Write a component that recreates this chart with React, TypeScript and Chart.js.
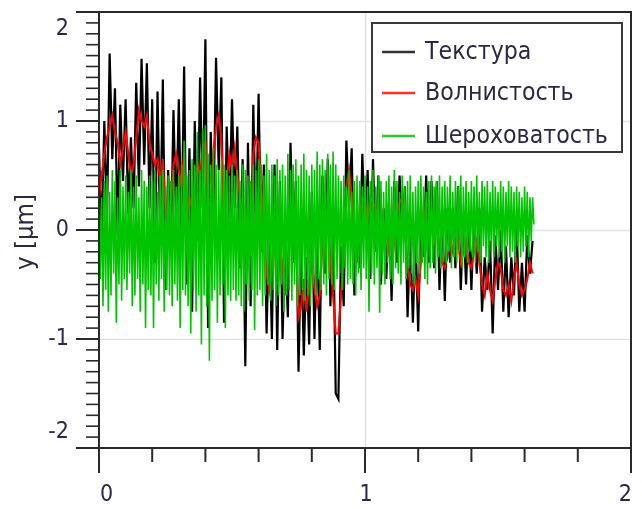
import React, { useEffect, useRef } from "react";
import { Chart, registerables } from "chart.js";

Chart.register(...registerables);

// ---------- data ----------
const SERIES_NAMES = ["Текстура", "Волнистость", "Шероховатость"];
const SERIES_COLORS = ["#000000", "#ff0000", "#00c400"];
const SERIES_WIDTHS = [2.2, 2.1, 1.6];
const LEGEND_COLORS = ["#333333", "#ff3030", "#28cc28"];
const X_START = 0;
const TEXTURE_STEP = 0.01;
const WAVINESS_STEP = 0.01;
const ROUGHNESS_STEP = 0.005;

const TEXTURE = [
  0.75, -0.1, 1.0, 0.1, 1.62, 0.65, 1.3, -0.05, 1.15, 0.45, 1.2,
  0.15, 0.85, 0.2, 1.35, 0.4, 1.57, 0.6, 1.53, 0.2, 1.2,
  -0.3, 1.27, -0.05, 1.38, -0.55, 0.55, -0.2, 1.1, 0.05, 1.2,
  -0.1, 1.5, -0.5, 0.75, -0.75, 1.0, -0.1, 1.4, 0.2, 1.75,
  -0.9, 0.9, 0.1, 1.58, 0.55, 1.4, -0.85, 0.95, 0.1, 1.2,
  0.2, 0.95, -0.35, 0.65, -1.25, 0.8, -0.7, 1.15, -0.05, 1.25,
  -0.2, 0.6, -0.95, 0.05, -1.0, 0.6, -1.1, 0.45, -1.0, -0.1,
  -0.8, 0.8, -0.3, 0.45, -1.3, -0.1, -1.15, -0.25, -1.05, 0.35,
  -1.0, 0.02, -1.1, 0.5, -0.4, 0.65, -0.7, 0.1, -1.5, -1.55,
  -0.15, -0.7, 0.82, 0.2, 0.75, -0.6, 0.05, -0.35, 0.7, -0.05,
  0.55, -0.45, 0.65, -0.2, 0.5, -0.5, 0.2, -0.45, 0.25, -0.65,
  0.45, -0.3, 0.5, -0.05, 0.4, -0.8, -0.05, -0.85, -0.05, -0.93,
  0.2, -0.25, 0.5, -0.3, 0.45, -0.35, 0.45, -0.55, 0.2, -0.65,
  0.2, -0.3, 0.2, -0.35, 0.4, -0.55, 0.1, -0.5, 0.15, -0.55,
  0.2, -0.4, 0.2, -0.75, -0.25, -0.55, -0.1, -0.95, -0.05, -0.55,
  0.0, -0.75, -0.15, -0.8, -0.25, -0.6, 0.05, -0.75, -0.3, -0.75,
  -0.05, -0.4, -0.1,
];

const WAVINESS = [
  0.3, 0.5, 0.7, 0.85, 0.95, 1.05, 0.9, 0.8, 0.6, 0.75, 0.9,
  0.7, 0.5, 0.6, 0.85, 1.1, 1.0, 0.95, 1.05, 0.8, 0.7,
  0.6, 0.65, 0.45, 0.65, 0.2, 0.1, 0.25, 0.6, 0.7, 0.55,
  0.4, 0.7, 0.1, 0.3, 0.2, 0.45, 0.6, 0.5, 0.75, 0.8,
  0.3, 0.2, 0.7, 0.95, 1.05, 0.85, 0.0, 0.45, 0.7, 0.55,
  0.75, 0.5, 0.3, 0.1, -0.5, 0.2, -0.2, 0.7, 0.85, 0.8,
  0.4, -0.1, -0.4, -0.55, -0.35, 0.1, -0.5, -0.2, -0.3, -0.6,
  -0.3, 0.1, 0.3, -0.1, -0.8, -0.7, -0.45, -0.75, -0.5, -0.3,
  -0.55, -0.7, -0.6, -0.1, 0.2, 0.1, -0.3, -0.6, -0.95, -0.95,
  -0.6, -0.2, 0.4, 0.55, 0.3, -0.1, -0.3, 0.1, 0.3, 0.25,
  0.1, 0.3, 0.25, 0.2, 0.0, -0.15, -0.1, 0.05, -0.2, -0.35,
  -0.1, 0.15, 0.25, 0.3, 0.0, -0.3, -0.5, -0.55, -0.45, -0.6,
  -0.3, 0.05, 0.25, 0.2, 0.0, -0.1, 0.05, -0.15, -0.3, -0.35,
  -0.25, -0.1, -0.2, 0.0, -0.1, -0.3, -0.2, -0.1, -0.3, -0.35,
  -0.2, -0.1, -0.3, -0.5, -0.6, -0.4, -0.55, -0.65, -0.45, -0.3,
  -0.35, -0.55, -0.6, -0.5, -0.65, -0.45, -0.3, -0.5, -0.6, -0.55,
  -0.45, -0.3, -0.4,
];

const ROUGHNESS = [
  0.5, -0.45, 0.3, -0.7, 0.45, -0.55, 0.5, -0.75, 0.35, -0.6, 0.55, -0.4, 0.45, -0.85, 0.3, -0.5, 0.55, -0.65, 0.4, -0.45,
  0.5, -0.55, 0.35, -0.4, 0.55, -0.7, 0.4, -0.6, 0.5, -0.45, 0.3, -0.75, 0.55, -0.5, 0.45, -0.9, 0.4, -0.55, 0.5, -0.6,
  0.45, -0.9, 0.55, -0.5, 0.35, -0.65, 0.5, -0.45, 0.55, -0.75, 0.4, -0.55, 0.5, -0.6, 0.45, -0.7, 0.55, -0.5, 0.4, -0.65,
  0.5, -0.9, 0.6, -0.55, 0.82, -0.6, 0.5, -0.7, 0.55, -0.95, 0.65, -0.55, 0.6, -0.75, 0.9, -0.6, 0.55, -1.05, 0.93, -0.6,
  0.96, -0.7, 0.7, -1.2, 0.6, -0.65, 0.75, -0.55, 0.6, -0.85, 0.55, -0.6, 0.65, -0.5, 0.6, -0.9, 0.55, -0.6, 0.5, -0.65,
  0.6, -0.55, 0.5, -0.65, 0.55, -0.6, 0.45, -0.7, 0.6, -0.75, 0.55, -0.5, 0.5, -0.65, 0.45, -0.55, 0.6, -0.92, 0.55, -0.6,
  0.65, -0.55, 0.6, -0.7, 0.5, -0.6, 0.7, -0.5, 0.55, -0.65, 0.6, -0.55, 0.5, -0.7, 0.65, -0.6, 0.55, -0.5, 0.6, -0.75,
  0.5, -0.6, 0.7, -0.55, 0.55, -0.65, 0.6, -0.5, 0.65, -0.7, 0.5, -0.6, 0.6, -0.55, 0.7, -0.65, 0.55, -0.6, 0.5, -0.7,
  0.6, -0.5, 0.55, -0.6, 0.72, -0.45, 0.6, -0.55, 0.65, -0.5, 0.55, -0.6, 0.7, -0.45, 0.6, -0.5, 0.72, -0.55, 0.6, -0.45,
  0.5, -0.4, 0.45, -0.55, 0.5, -0.35, 0.4, -0.5, 0.55, -0.45, 0.35, -0.5, 0.45, -0.6, 0.5, -0.4, 0.45, -0.55, 0.4, -0.35,
  0.5, -0.45, 0.4, -0.75, 0.45, -0.4, 0.55, -0.5, 0.4, -0.35, 0.5, -0.76, 0.45, -0.4, 0.35, -0.5, 0.45, -0.3, 0.5, -0.45,
  0.4, -0.5, 0.55, -0.35, 0.45, -0.4, 0.35, -0.5, 0.5, -0.3, 0.4, -0.45, 0.45, -0.35, 0.5, -0.4, 0.35, -0.5, 0.4, -0.3,
  0.45, -0.4, 0.5, -0.3, 0.4, -0.45, 0.35, -0.5, 0.45, -0.35, 0.5, -0.3, 0.4, -0.4, 0.45, -0.25, 0.5, -0.35, 0.4, -0.3,
  0.45, -0.3, 0.4, -0.2, 0.5, -0.35, 0.35, -0.25, 0.45, -0.3, 0.4, -0.2, 0.5, -0.35, 0.4, -0.25, 0.45, -0.3, 0.35, -0.2,
  0.45, -0.25, 0.4, -0.3, 0.5, -0.2, 0.35, -0.3, 0.45, -0.15, 0.4, -0.25, 0.45, -0.3, 0.35, -0.2, 0.45, -0.25, 0.4, -0.15,
  0.35, -0.25, 0.45, -0.2, 0.4, -0.3, 0.35, -0.15, 0.45, -0.25, 0.4, -0.2, 0.35, -0.3, 0.4, -0.15, 0.35, -0.25, 0.3, -0.2,
  0.4, -0.15, 0.35, -0.25, 0.3, -0.1, 0.3, 0.05,
];

const X_MIN = 0;
const X_MAX = 2;
const Y_MIN = -2;
const Y_MAX = 2;
const X_TICKS = [0, 1, 2];
const X_MINOR_TICKS = [0.2, 0.4, 0.6, 0.8, 1.2, 1.4, 1.6, 1.8];
const Y_TICKS = [-2, -1, 0, 1, 2];
const Y_TICK_LABELS = ["-2", "-1", "0", "1", "2"];
const X_TICK_LABELS = ["0", "1", "2"];
const Y_MINOR_PER_UNIT = 10;
const Y_GRID = [-1, 0, 1];
const X_GRID = [1];
const Y_TITLE = "y [µm]";

// ---------- styling ----------
const FONT_FAMILY = '"DejaVu Sans Condensed", "DejaVu Sans", sans-serif';
const TEXT_COLOR = "#2b2748";
const AXIS_COLOR = "#2a2a2a";
const GRID_COLOR = "#e2e2e2";

function toPoints(values: number[], step: number) {
  return values.map((v, i) => ({ x: X_START + i * step, y: v }));
}

function fittedSize(ctx: CanvasRenderingContext2D, text: string, width: number) {
  ctx.font = `20px ${FONT_FAMILY}`;
  const w = ctx.measureText(text).width;
  return (20 * width) / w;
}

const decorPlugin = {
  id: "decor",
  beforeDatasetsDraw(chart: any) {
    const { ctx, chartArea } = chart;
    const { left: L, right: R, top: T, bottom: B } = chartArea;
    const xs = chart.scales.x;
    const ys = chart.scales.y;
    ctx.save();
    ctx.strokeStyle = GRID_COLOR;
    ctx.lineWidth = 1.5;
    Y_GRID.forEach((v) => {
      const y = Math.round(ys.getPixelForValue(v)) + 0.5;
      ctx.beginPath();
      ctx.moveTo(L, y);
      ctx.lineTo(R, y);
      ctx.stroke();
    });
    X_GRID.forEach((v) => {
      const x = Math.round(xs.getPixelForValue(v)) + 0.5;
      ctx.beginPath();
      ctx.moveTo(x, T);
      ctx.lineTo(x, B);
      ctx.stroke();
    });
    ctx.restore();
  },
  afterDatasetsDraw(chart: any) {
    const { ctx, chartArea } = chart;
    const { left: L, right: R, top: T, bottom: B } = chartArea;
    const xs = chart.scales.x;
    const ys = chart.scales.y;
    ctx.save();
    ctx.strokeStyle = AXIS_COLOR;
    ctx.lineCap = "butt";

    // frame
    ctx.lineWidth = 2;
    ctx.beginPath();
    ctx.moveTo(L, T - 1);
    ctx.lineTo(L, B + 1);
    ctx.moveTo(R, T - 1);
    ctx.lineTo(R, B + 1);
    ctx.moveTo(L - 23, T);
    ctx.lineTo(R + 1, T);
    ctx.moveTo(L - 23, B);
    ctx.lineTo(R + 1, B);
    ctx.stroke();

    // y ticks
    Y_TICKS.forEach((v) => {
      const y = ys.getPixelForValue(v);
      ctx.lineWidth = 2;
      ctx.beginPath();
      ctx.moveTo(L - 23, y);
      ctx.lineTo(L, y);
      ctx.stroke();
    });
    ctx.lineWidth = 1.6;
    for (let k = Y_MIN * Y_MINOR_PER_UNIT; k <= Y_MAX * Y_MINOR_PER_UNIT; k++) {
      if (k % Y_MINOR_PER_UNIT === 0) continue;
      const y = ys.getPixelForValue(k / Y_MINOR_PER_UNIT);
      ctx.beginPath();
      ctx.moveTo(L - 13, y);
      ctx.lineTo(L, y);
      ctx.stroke();
    }
    // x ticks
    ctx.lineWidth = 2;
    X_TICKS.forEach((v) => {
      const x = xs.getPixelForValue(v);
      ctx.beginPath();
      ctx.moveTo(x, B);
      ctx.lineTo(x, B + 25);
      ctx.stroke();
    });
    X_MINOR_TICKS.forEach((v) => {
      const x = xs.getPixelForValue(v);
      ctx.beginPath();
      ctx.moveTo(x, B);
      ctx.lineTo(x, B + 14);
      ctx.stroke();
    });

    // tick labels
    ctx.fillStyle = TEXT_COLOR;
    ctx.font = `23px ${FONT_FAMILY}`;
    ctx.textBaseline = "middle";
    ctx.textAlign = "right";
    Y_TICKS.forEach((v, i) => {
      let y = ys.getPixelForValue(v);
      y = Math.min(Math.max(y, T + 17), B - 16);
      ctx.fillText(Y_TICK_LABELS[i], L - 30, y);
    });
    X_TICKS.forEach((v, i) => {
      const x = xs.getPixelForValue(v);
      if (i === 0) {
        ctx.textAlign = "left";
      } else if (i === X_TICKS.length - 1) {
        ctx.textAlign = "right";
      } else {
        ctx.textAlign = "center";
      }
      ctx.fillText(X_TICK_LABELS[i], x + 1, B + 47);
    });

    // y title
    const titleSize = fittedSize(ctx, Y_TITLE, 76);
    ctx.save();
    ctx.translate(L - 73, (T + B) / 2 + 2);
    ctx.rotate(-Math.PI / 2);
    ctx.font = `${titleSize}px ${FONT_FAMILY}`;
    ctx.textAlign = "center";
    ctx.textBaseline = "middle";
    ctx.fillText(Y_TITLE, 0, 0);
    ctx.restore();

    // legend
    const bx = R - 259;
    const by = T + 11;
    const bw = 250;
    const bh = 129;
    ctx.fillStyle = "#ffffff";
    ctx.fillRect(bx, by, bw, bh);
    ctx.strokeStyle = "#3a3a3a";
    ctx.lineWidth = 2;
    ctx.strokeRect(bx, by, bw, bh);
    const legendSize = fittedSize(ctx, SERIES_NAMES[2], 183);
    ctx.font = `${legendSize}px ${FONT_FAMILY}`;
    ctx.textAlign = "left";
    ctx.textBaseline = "middle";
    const rows = [29, 70, 113];
    SERIES_NAMES.forEach((name, i) => {
      const y = by + rows[i];
      ctx.strokeStyle = LEGEND_COLORS[i];
      ctx.lineWidth = 2.5;
      ctx.beginPath();
      ctx.moveTo(bx + 10, y);
      ctx.lineTo(bx + 43, y);
      ctx.stroke();
      ctx.fillStyle = TEXT_COLOR;
      ctx.fillText(name, bx + 53, y + 1);
    });
    ctx.restore();
  },
};

export default function App() {
  const canvasRef = useRef<HTMLCanvasElement | null>(null);

  useEffect(() => {
    const canvas = canvasRef.current;
    if (!canvas) return;
    const seriesValues = [TEXTURE, WAVINESS, ROUGHNESS];
    const seriesSteps = [TEXTURE_STEP, WAVINESS_STEP, ROUGHNESS_STEP];
    const drawOrder = [2, 1, 0];
    const chart = new Chart(canvas, {
      type: "line",
      data: {
        datasets: SERIES_NAMES.map((name, i) => ({
          label: name,
          data: toPoints(seriesValues[i], seriesSteps[i]),
          borderColor: SERIES_COLORS[i],
          backgroundColor: SERIES_COLORS[i],
          borderWidth: SERIES_WIDTHS[i],
          pointRadius: 0,
          tension: 0,
          fill: false,
          order: drawOrder[i],
        })),
      },
      options: {
        animation: false,
        responsive: false,
        maintainAspectRatio: false,
        layout: { padding: { left: 91, right: 3, top: 4, bottom: 53 } },
        plugins: { legend: { display: false }, tooltip: { enabled: false } },
        scales: {
          x: { type: "linear", min: X_MIN, max: X_MAX, display: false },
          y: { type: "linear", min: Y_MIN, max: Y_MAX, display: false },
        },
      },
      plugins: [decorPlugin],
    });
    return () => chart.destroy();
  }, []);

  return (
    <canvas
      ref={canvasRef}
      width={626}
      height={493}
      style={{ display: "block", width: 626, height: 493 }}
    />
  );
}
